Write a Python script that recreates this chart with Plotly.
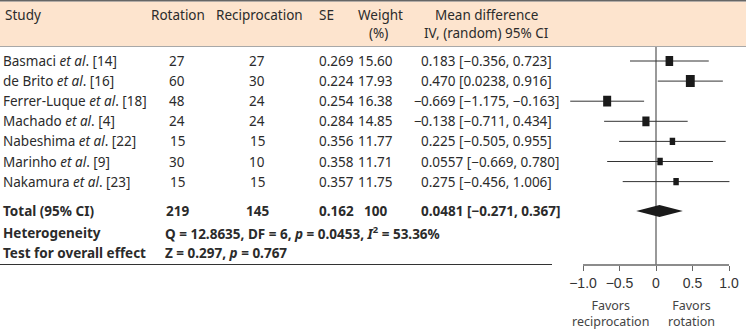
import plotly.graph_objects as go

# ---- data ----
studies = ["Basmaci <i>et al</i>. [14]", "de Brito <i>et al</i>. [16]", "Ferrer-Luque <i>et al</i>. [18]",
           "Machado <i>et al</i>. [4]", "Nabeshima <i>et al</i>. [22]", "Marinho <i>et al</i>. [9]",
           "Nakamura <i>et al</i>. [23]"]
n_rotation = [27, 60, 48, 24, 15, 30, 15]
n_reciprocation = [27, 30, 24, 24, 15, 10, 15]
se = [0.269, 0.224, 0.254, 0.284, 0.356, 0.358, 0.357]
weight = [15.60, 17.93, 16.38, 14.85, 11.77, 11.71, 11.75]
md = [0.183, 0.470, -0.669, -0.138, 0.225, 0.0557, 0.275]
ci_lo = [-0.356, 0.0238, -1.175, -0.711, -0.505, -0.669, -0.456]
ci_hi = [0.723, 0.916, -0.163, 0.434, 0.955, 0.780, 1.006]

total_rotation = 219
total_reciprocation = 145
total_se = 0.162
total_weight = 100
total_md = 0.0481
total_lo = -0.271
total_hi = 0.367

heterogeneity = "Q = 12.8635, DF = 6, <i>p</i> = 0.0453, <i>I</i><sup>2</sup> = 53.36%"
overall_test = "Z = 0.297, <i>p</i> = 0.767"

tick_vals = [-1.0, -0.5, 0, 0.5, 1.0]
tick_text = ["\u22121.0", "\u22120.5", "0", "0.5", "1.0"]

# ---- layout helpers ----
W, H = 746, 331
ROW0, ROW_STEP = 61, 20.1          # pixel centre of first study row, row pitch


def yv(px):
    """pixel row -> y-axis units"""
    return (px - ROW0) / ROW_STEP


def xp(px):
    return px / W


def fmt(v):
    s = f"{abs(v):.3f}" if abs(v) >= 0.1 else f"{abs(v):.4f}"
    return ("\u2212" if v < 0 else "") + s


rows = list(range(len(studies)))
total_row = yv(211)
het_row = yv(232.5)
test_row = yv(253)
axis_y = yv(265)

FONT = "Noto Sans"
FS = 13.5
TXT = "#2b2b2b"

fig = go.Figure()

annotations = []


def add_text(x, y, text, anchor="center", bold=False, size=FS, color=TXT, family=FONT, shift=0):
    if bold:
        text = f"<b>{text}</b>"
    annotations.append(dict(x=xp(x), y=y, xref="paper", yref="y", text=text, showarrow=False,
                            xanchor=anchor, yanchor="middle", xshift=shift,
                            font=dict(family=family, size=size, color=color)))


# header
h1, h2 = yv(15), yv(33)
add_text(3, h1, "Study", "left")
add_text(178, h1, "Rotation")
add_text(259, h1, "Reciprocation")
add_text(326, h1, "SE")
add_text(380, h1, "Weight")
add_text(378, h2, "(%)")
add_text(486, h1, "Mean difference")
add_text(486, h2, "IV, (random) 95% CI")


def md_text(x_left, y, v, lo, hi, bold=False):
    body = f"{fmt(abs(v))} [{fmt(lo)}, {fmt(hi)}]"
    add_text(x_left, y, body, "left", bold)
    if v < 0:
        add_text(x_left, y, "\u2212", "right", bold, shift=5)


for r in rows:
    add_text(1, r, studies[r], "left")
    add_text(177, r, str(n_rotation[r]))
    add_text(257, r, str(n_reciprocation[r]))
    add_text(336, r, f"{se[r]:.3f}")
    add_text(375, r, f"{weight[r]:.2f}")
    md_text(419, r, md[r], ci_lo[r], ci_hi[r])

add_text(1, total_row, "Total (95% CI)", "left", True)
add_text(177, total_row, str(total_rotation), bold=True)
add_text(257, total_row, str(total_reciprocation), bold=True)
add_text(336, total_row, f"{total_se:.3f}", bold=True)
add_text(375, total_row, str(total_weight), bold=True)
md_text(419, total_row, total_md, total_lo, total_hi, True)

add_text(1, het_row, "Heterogeneity", "left", True)
add_text(163, het_row, heterogeneity, "left", True)
add_text(1, test_row, "Test for overall effect", "left", True)
add_text(163, test_row, overall_test, "left", True)

# favours labels under the axis
annotations.append(dict(x=-0.63, y=yv(313), xref="x", yref="y", text="Favors<br>reciprocation",
                        showarrow=False, xanchor="center", yanchor="middle", align="center",
                        font=dict(family=FONT, size=12.5, color="#444")))
annotations.append(dict(x=0.48, y=yv(313), xref="x", yref="y", text="Favors<br>rotation",
                        showarrow=False, xanchor="center", yanchor="middle", align="center",
                        font=dict(family=FONT, size=12.5, color="#444")))

shapes = []
# header band and rules
shapes.append(dict(type="rect", xref="paper", yref="y", x0=0, x1=1, y0=yv(1.5), y1=yv(46),
                   fillcolor="#FDE4CE", line=dict(width=0), layer="below"))
shapes.append(dict(type="line", xref="paper", yref="y", x0=0, x1=1, y0=yv(0.8), y1=yv(0.8),
                   line=dict(color="#666", width=1.6)))
shapes.append(dict(type="line", xref="paper", yref="y", x0=0, x1=1, y0=yv(46.5), y1=yv(46.5),
                   line=dict(color="#A8A8A8", width=1)))
shapes.append(dict(type="line", xref="paper", yref="y", x0=0, x1=xp(552), y0=yv(264.5), y1=yv(264.5),
                   line=dict(color="#333", width=1)))

# axis line and line of no effect
shapes.append(dict(type="line", xref="x", yref="y", x0=tick_vals[0], x1=tick_vals[-1], y0=axis_y, y1=axis_y,
                   line=dict(color="#666", width=1.3)))
shapes.append(dict(type="line", xref="x", yref="y", x0=0, x1=0, y0=yv(47), y1=axis_y,
                   line=dict(color="#777", width=1.5)))

# confidence intervals and weighted boxes
for r in rows:
    shapes.append(dict(type="line", xref="x", yref="y", x0=ci_lo[r], x1=ci_hi[r], y0=r, y1=r,
                       line=dict(color="#333", width=1)))
for r in rows:
    w = weight[r] * 0.55 - 1.0
    h = w * 1.35
    shapes.append(dict(type="rect", xref="x", yref="y", xsizemode="pixel", ysizemode="pixel",
                       xanchor=md[r], yanchor=r, x0=-w / 2, x1=w / 2, y0=-h / 2, y1=h / 2,
                       fillcolor="#1a1a1a", line=dict(width=0)))

# pooled estimate diamond
dh = 6 / ROW_STEP
shapes.append(dict(type="path", xref="x", yref="y",
                   path=(f"M {total_lo},{total_row} L {total_md},{total_row - dh} "
                         f"L {total_hi},{total_row} L {total_md},{total_row + dh} Z"),
                   fillcolor="#1a1a1a", line=dict(width=0)))

fig.update_layout(
    width=W, height=H, margin=dict(l=0, r=0, t=0, b=0),
    paper_bgcolor="white", plot_bgcolor="rgba(0,0,0,0)", showlegend=False,
    annotations=annotations, shapes=shapes,
    xaxis=dict(range=[-1.3, 1.2], domain=[(656 - 1.3 * 73) / W, (656 + 1.2 * 73) / W],
               anchor="free", position=1 - 265 / H, showgrid=False, zeroline=False, showline=False,
               tickvals=tick_vals, ticktext=tick_text, ticks="outside", ticklen=5, tickwidth=1.2,
               tickcolor="#666", tickfont=dict(family="Liberation Sans", size=14, color="#333")),
    yaxis=dict(range=[yv(H), yv(0)], domain=[0, 1], visible=False, fixedrange=True),
)

fig.write_html("out.html")
